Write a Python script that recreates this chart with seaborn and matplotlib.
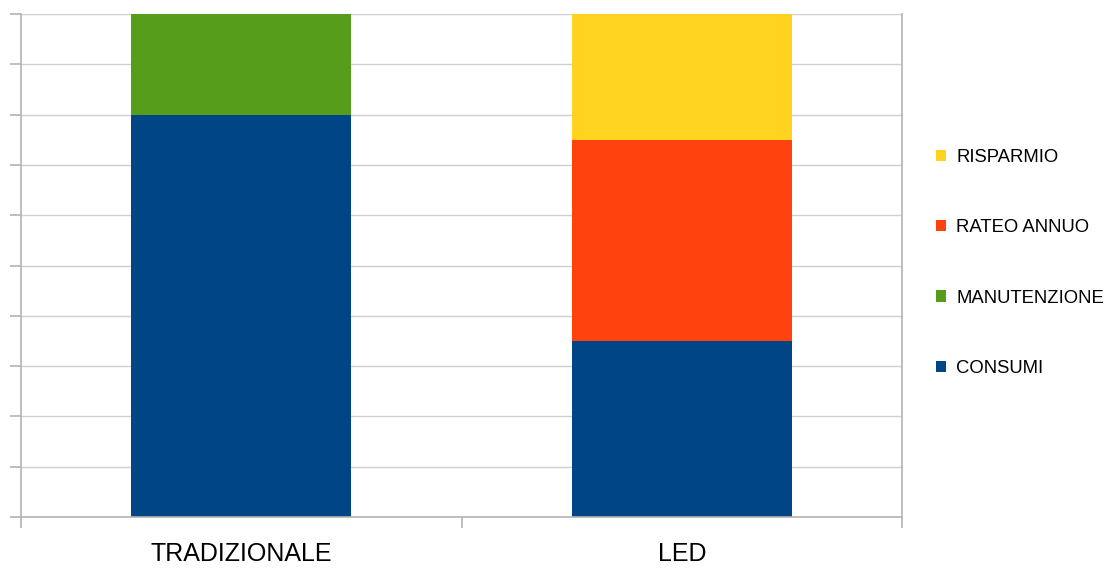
import matplotlib
matplotlib.use("Agg")
import matplotlib.pyplot as plt
from matplotlib.patches import Patch
import seaborn as sns

# categorie e serie (scala 0-10)
categorie = ["TRADIZIONALE", "LED"]
consumi = [8, 3.5]
manutenzione = [2, 0]
rateo_annuo = [0, 4]
risparmio = [0, 2.5]

serie = ["CONSUMI", "MANUTENZIONE", "RATEO ANNUO", "RISPARMIO"]
colori = ["#004586", "#579d1c", "#ff420e", "#ffd320"]

sns.set_theme(style="white")
plt.rcParams["font.family"] = ["Liberation Sans", "DejaVu Sans"]
plt.rcParams["text.color"] = "black"

fig = plt.figure(figsize=(11.06, 5.68), dpi=100)
ax = fig.add_axes([21 / 1106, 51 / 568, 881 / 1106, 503 / 568])

# barre impilate: si disegnano i cumulati dal più alto al più basso
valori = [consumi, manutenzione, rateo_annuo, risparmio]
cumulati = []
somma = [0, 0]
for v in valori:
    somma = [a + b for a, b in zip(somma, v)]
    cumulati.append(somma)

for cum, col in reversed(list(zip(cumulati, colori))):
    sns.barplot(x=categorie, y=cum, color=col, width=0.5, linewidth=0,
                edgecolor="none", saturation=1, ax=ax)

ax.set_xlim(-0.5, 1.5)
ax.set_ylim(0, 10)
ax.set_yticks(range(0, 11))
ax.set_yticklabels([])
ax.yaxis.grid(True, color="#cfcfcf", linewidth=1)
ax.set_axisbelow(True)

ax.set_xticks([-0.5, 0.5, 1.5])
ax.set_xticklabels([])
ax.set_xticks([0, 1], minor=True)
ax.set_xticklabels(categorie, minor=True, fontsize=18)
ax.tick_params(axis="x", which="minor", length=0, pad=18, labelcolor="black")
ax.tick_params(axis="x", which="major", length=8, width=1.2, color="#b3b3b3",
               direction="out", bottom=True)
ax.tick_params(axis="y", length=8, width=1.2, color="#b3b3b3",
               direction="out", left=True)
ax.set_xlabel("")
ax.set_ylabel("")

for lato in ["left", "right", "bottom"]:
    ax.spines[lato].set_visible(True)
    ax.spines[lato].set_color("#b3b3b3")
    ax.spines[lato].set_linewidth(1.2)
ax.spines["top"].set_visible(False)

handles = [Patch(facecolor=c, edgecolor="none") for c in colori]
fig.legend(handles[::-1], serie[::-1], loc="center left",
           bbox_to_anchor=(936 / 1106, 1 - 263 / 568), frameon=False,
           borderaxespad=0, borderpad=0, fontsize=13.3, handlelength=0.56,
           handleheight=0.56, handletextpad=0.54, labelspacing=2.88,
           labelcolor="black")

plt.savefig("out.png", dpi=100)
